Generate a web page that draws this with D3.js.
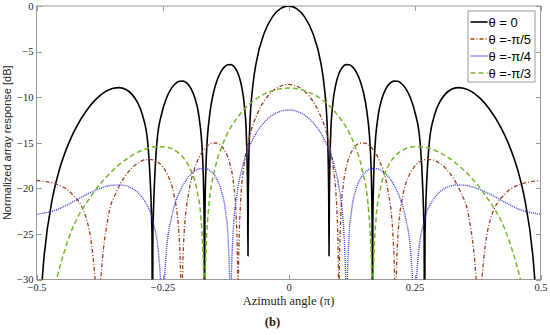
<!DOCTYPE html>
<meta charset="utf-8">
<html>
  <head>
    <title>Array response</title>
    <script src="https://d3js.org/d3.v7.min.js"></script>
    <style type="text/css">
      body{
        margin: 0;
        background: #fff;
      }
      .axis text{
        font-family: "Liberation Serif", serif;
        font-size: 10.5px;
        fill: #262626;
      }
      .axis line{
        stroke: #9a9a9a;
        shape-rendering: crispEdges;
      }
      .axis path{
        display: none;
      }
    </style>
  </head>
  <body>
    <div id="plot"></div>
  </body>

  <script>
    // tick values
    var xTicks = [-0.5, -0.25, 0, 0.25, 0.5];
    var yTicks = [0, -5, -10, -15, -20, -25, -30];
    var labels = ["θ = 0", "θ =-π/5", "θ =-π/4", "θ =-π/3"];

    // theta = 0  (azimuth in units of pi, response in dB)
    var az0 = [-0.5, -0.4858, -0.4682, -0.4551, -0.4362, -0.4218, -0.3989, -0.3804, -0.3642, -0.3493, -0.3359, -0.3234, -0.3119, -0.3006, -0.2898, -0.2797, -0.2709, -0.27, -0.269, -0.2606, -0.2513, -0.2424, -0.2336, -0.2252, -0.2169, -0.2088, -0.2009, -0.1931, -0.1854, -0.1778, -0.1704, -0.1674, -0.1667, -0.1659, -0.163, -0.1557, -0.1486, -0.1415, -0.1345, -0.1275, -0.1206, -0.1138, -0.1071, -0.1003, -0.0937, -0.087, -0.0837, -0.0811, -0.0804, -0.0798, -0.0772, -0.0706, -0.0641, -0.0479, -0.0319, -0.0159, 0,
      0.0159, 0.0319, 0.0479, 0.0641, 0.0706, 0.0772, 0.0798, 0.0804, 0.0811, 0.0837, 0.087, 0.0937, 0.1003, 0.1071, 0.1138, 0.1206, 0.1275, 0.1345, 0.1415, 0.1486, 0.1557, 0.163, 0.1659, 0.1667, 0.1674, 0.1704, 0.1778, 0.1854, 0.1931, 0.2009, 0.2088, 0.2169, 0.2252, 0.2336, 0.2424, 0.2513, 0.2606, 0.269, 0.27, 0.2709, 0.2797, 0.2898, 0.3006, 0.3119, 0.3234, 0.3359, 0.3493, 0.3642, 0.3804, 0.3989, 0.4218, 0.4362, 0.4551, 0.4682, 0.4858, 0.5];
    var db0 = [-40, -28, -21.05, -18.05, -15.07, -13.37, -11.33, -10.14, -9.42, -9.04, -8.95, -9.13, -9.61, -10.48, -11.96, -14.78, -24.7, -40, -24.7, -14.67, -11.74, -10.14, -9.15, -8.56, -8.26, -8.24, -8.49, -9.09, -10.15, -12.06, -16.61, -23.5, -40, -23.5, -16.48, -11.65, -9.46, -8.12, -7.25, -6.71, -6.44, -6.43, -6.72, -7.38, -8.64, -11.22, -14.04, -20.9, -27.4, -20.9, -13.71, -8.67, -6.24, -2.93, -1.19, -0.29, 0,
      -0.29, -1.19, -2.93, -6.24, -8.67, -13.71, -20.9, -27.4, -20.9, -14.04, -11.22, -8.64, -7.38, -6.72, -6.43, -6.44, -6.71, -7.25, -8.12, -9.46, -11.65, -16.48, -23.5, -40, -23.5, -16.61, -12.06, -10.15, -9.09, -8.49, -8.24, -8.26, -8.56, -9.15, -10.14, -11.74, -14.67, -24.7, -40, -24.7, -14.78, -11.96, -10.48, -9.61, -9.13, -8.95, -9.04, -9.42, -10.14, -11.33, -13.37, -15.07, -18.05, -21.05, -28, -40];

    // theta = -pi/5
    var az5 = [-0.5, -0.4524, -0.4308, -0.4007, -0.3798, -0.3777, -0.3756, -0.3582, -0.3409, -0.3252, -0.3106, -0.297, -0.2842, -0.2719, -0.2602, -0.2488, -0.2379, -0.2274, -0.2171, -0.2131, -0.2121, -0.2112, -0.2072, -0.1973, -0.1877, -0.1784, -0.1692, -0.1601, -0.1512, -0.1424, -0.1337, -0.1252, -0.1167, -0.1083, -0.1041, -0.1008, -0.1, -0.0992, -0.0959, -0.0877, -0.0795, -0.0594, -0.0395, -0.0197, 0,
      0.0197, 0.0395, 0.0594, 0.0795, 0.0877, 0.0959, 0.0992, 0.1, 0.1008, 0.1041, 0.1083, 0.1167, 0.1252, 0.1337, 0.1424, 0.1512, 0.1601, 0.1692, 0.1784, 0.1877, 0.1973, 0.2072, 0.2112, 0.2121, 0.2131, 0.2171, 0.2274, 0.2379, 0.2488, 0.2602, 0.2719, 0.2842, 0.297, 0.3106, 0.3252, 0.3409, 0.3582, 0.3756, 0.3777, 0.3798, 0.4007, 0.4308, 0.4524, 0.5];
    var db5 = [-19.14, -19.72, -20.56, -23.38, -33.3, -40, -33.3, -23.27, -20.34, -18.74, -17.75, -17.16, -16.86, -16.84, -17.09, -17.69, -18.75, -20.66, -25.21, -32.1, -40, -32.1, -25.08, -20.25, -18.06, -16.72, -15.85, -15.31, -15.04, -15.03, -15.32, -15.98, -17.24, -19.82, -22.64, -29.5, -40, -29.5, -22.31, -17.27, -14.84, -11.53, -9.79, -8.89, -8.6,
      -8.89, -9.79, -11.53, -14.84, -17.27, -22.31, -29.5, -40, -29.5, -22.64, -19.82, -17.24, -15.98, -15.32, -15.03, -15.04, -15.31, -15.85, -16.72, -18.06, -20.25, -25.08, -32.1, -40, -32.1, -25.21, -20.66, -18.75, -17.69, -17.09, -16.84, -16.86, -17.16, -17.75, -18.74, -20.34, -23.27, -33.3, -40, -33.3, -23.38, -20.56, -19.72, -19.14];

    // theta = -pi/4
    var az4 = [-0.5, -0.4548, -0.4299, -0.3963, -0.3712, -0.3499, -0.3312, -0.3142, -0.2984, -0.2837, -0.2697, -0.2564, -0.2513, -0.25, -0.2487, -0.2437, -0.2315, -0.2196, -0.2081, -0.1969, -0.186, -0.1753, -0.1648, -0.1546, -0.1445, -0.1345, -0.1247, -0.1199, -0.116, -0.115, -0.1141, -0.1102, -0.1007, -0.0913, -0.068, -0.0452, -0.0225, 0,
      0.0225, 0.0452, 0.068, 0.0913, 0.1007, 0.1102, 0.1141, 0.115, 0.116, 0.1199, 0.1247, 0.1345, 0.1445, 0.1546, 0.1648, 0.1753, 0.186, 0.1969, 0.2081, 0.2196, 0.2315, 0.2437, 0.2487, 0.25, 0.2513, 0.2564, 0.2697, 0.2837, 0.2984, 0.3142, 0.3312, 0.3499, 0.3712, 0.3963, 0.4299, 0.4548, 0.5];
    var db4 = [-22.85, -22.24, -21.54, -20.55, -19.96, -19.66, -19.64, -19.89, -20.49, -21.55, -23.46, -28.01, -34.9, -40, -34.9, -27.88, -23.05, -20.86, -19.52, -18.65, -18.11, -17.84, -17.83, -18.12, -18.78, -20.04, -22.62, -25.44, -32.3, -40, -32.3, -25.11, -20.07, -17.64, -14.33, -12.59, -11.69, -11.4,
      -11.69, -12.59, -14.33, -17.64, -20.07, -25.11, -32.3, -40, -32.3, -25.44, -22.62, -20.04, -18.78, -18.12, -17.83, -17.84, -18.11, -18.65, -19.52, -20.86, -23.05, -27.88, -34.9, -40, -34.9, -28.01, -23.46, -21.55, -20.49, -19.89, -19.64, -19.66, -19.96, -20.55, -21.54, -22.24, -22.85];

    // theta = -pi/3
    var az3 = [-0.5, -0.4715, -0.4362, -0.3892, -0.3564, -0.3295, -0.306, -0.2848, -0.2652, -0.2468, -0.2294, -0.2129, -0.197, -0.1816, -0.1741, -0.1681, -0.1667, -0.1652, -0.1594, -0.145, -0.131, -0.097, -0.0641, -0.0319, 0,
      0.0319, 0.0641, 0.097, 0.131, 0.145, 0.1594, 0.1652, 0.1667, 0.1681, 0.1741, 0.1816, 0.197, 0.2129, 0.2294, 0.2468, 0.2652, 0.2848, 0.306, 0.3295, 0.3564, 0.3892, 0.4362, 0.4715, 0.5];
    var db3 = [-40, -32.5, -25.48, -20.65, -18.46, -17.12, -16.25, -15.71, -15.44, -15.43, -15.72, -16.38, -17.64, -20.22, -23.04, -29.9, -40, -29.9, -22.71, -17.67, -15.24, -11.93, -10.19, -9.29, -9,
      -9.29, -10.19, -11.93, -15.24, -17.67, -22.71, -29.9, -40, -29.9, -23.04, -20.22, -17.64, -16.38, -15.72, -15.43, -15.44, -15.71, -16.25, -17.12, -18.46, -20.65, -25.48, -32.5, -40];

    var series = [
      {name: labels[0], az: az0, db: db0, color: "#000000", width: 1.6, dash: null},
      {name: labels[1], az: az5, db: db5, color: "#9c3f18", width: 1.3, dash: "4,2,1,2"},
      {name: labels[2], az: az4, db: db4, color: "#3a3ae0", width: 1.4, dash: "1,1"},
      {name: labels[3], az: az3, db: db3, color: "#72b82a", width: 1.5, dash: "5,3"}
    ];

    var margin = {top: 6, right: 9.5, bottom: 55.5, left: 36.5},
        width = 550 - margin.left - margin.right,
        height = 335 - margin.top - margin.bottom;

    var svg = d3.select("#plot").append("svg")
        .attr("width", 550)
        .attr("height", 335)
      .append("g")
        .attr("transform", "translate(" + margin.left + "," + margin.top + ")");

    var xScale = d3.scaleLinear().domain([-0.5, 0.5]).range([0, width]);
    var yScale = d3.scaleLinear().domain([-30, 0]).range([height, 0]);
    var fmt = d3.format("~g");

    svg.append("clipPath")
        .attr("id", "clip")
      .append("rect")
        .attr("width", width)
        .attr("height", height);

    // axes, ticks pointing inward
    svg.append("g")
        .attr("class", "x axis")
        .attr("transform", "translate(0," + height + ")")
        .call(d3.axisBottom(xScale).tickValues(xTicks).tickFormat(fmt).tickSize(-5).tickSizeOuter(0).tickPadding(4.5));
    svg.append("g")
        .attr("class", "x axis")
        .call(d3.axisTop(xScale).tickValues(xTicks).tickSize(-5).tickSizeOuter(0).tickFormat(""));
    svg.append("g")
        .attr("class", "y axis")
        .call(d3.axisLeft(yScale).tickValues(yTicks).tickFormat(fmt).tickSize(-5).tickSizeOuter(0).tickPadding(3));
    svg.append("g")
        .attr("class", "y axis")
        .attr("transform", "translate(" + width + ",0)")
        .call(d3.axisRight(yScale).tickValues(yTicks).tickSize(-5).tickSizeOuter(0).tickFormat(""));

    // box
    svg.append("rect")
        .attr("width", width)
        .attr("height", height)
        .style("fill", "none")
        .style("stroke", "#9a9a9a")
        .style("stroke-width", 1);

    var line = d3.line()
        .x(function(d){ return xScale(d[0]); })
        .y(function(d){ return yScale(d[1]); })
        .curve(d3.curveMonotoneX);

    var curves = svg.append("g").attr("clip-path", "url(#clip)");
    series.forEach(function(s){
      curves.append("path")
          .attr("d", line(d3.zip(s.az, s.db)))
          .style("fill", "none")
          .style("stroke", s.color)
          .style("stroke-width", s.width)
          .style("stroke-dasharray", s.dash);
    });

    // axis labels
    svg.append("text")
        .attr("transform", "rotate(-90)")
        .attr("x", -height / 2)
        .attr("y", -26)
        .style("text-anchor", "middle")
        .style("font-family", "'Liberation Sans', Arial, sans-serif")
        .style("font-size", "11px")
        .style("fill", "#262626")
        .text("Normalized array response [dB]");

    svg.append("text")
        .attr("x", width / 2)
        .attr("y", 299)
        .style("text-anchor", "middle")
        .style("font-family", "'Liberation Serif', serif")
        .style("font-size", "12.5px")
        .style("fill", "#262626")
        .text("Azimuth angle (π)");

    svg.append("text")
        .attr("x", width / 2 - 16)
        .attr("y", 320)
        .style("text-anchor", "middle")
        .style("font-family", "'Liberation Serif', serif")
        .style("font-weight", "bold")
        .style("font-size", "12.5px")
        .style("fill", "#1a1a1a")
        .text("(b)");

    // legend
    var legend = svg.append("g")
        .attr("transform", "translate(" + (width - 72.5) + ",5)");
    legend.append("rect")
        .attr("width", 67)
        .attr("height", 71)
        .style("fill", "#fff")
        .style("stroke", "#9a9a9a");
    var l1 = legend.selectAll(".legend")
        .data(series)
      .enter().append("g")
        .attr("class", "legend")
        .attr("transform", function(d, i){ return "translate(0," + (11 + i * 17) + ")"; });
    l1.append("line")
        .attr("x1", 2.5)
        .attr("x2", 19.5)
        .style("stroke", function(d){ return d.color; })
        .style("stroke-width", function(d){ return d.width; })
        .style("stroke-dasharray", function(d){ return d.dash; });
    l1.append("text")
        .attr("x", 20.5)
        .attr("dy", "0.36em")
        .style("font-family", "'Liberation Sans', Arial, sans-serif")
        .style("font-size", "13px")
        .style("fill", "#000")
        .text(function(d){ return d.name; });
  </script>
</html>
